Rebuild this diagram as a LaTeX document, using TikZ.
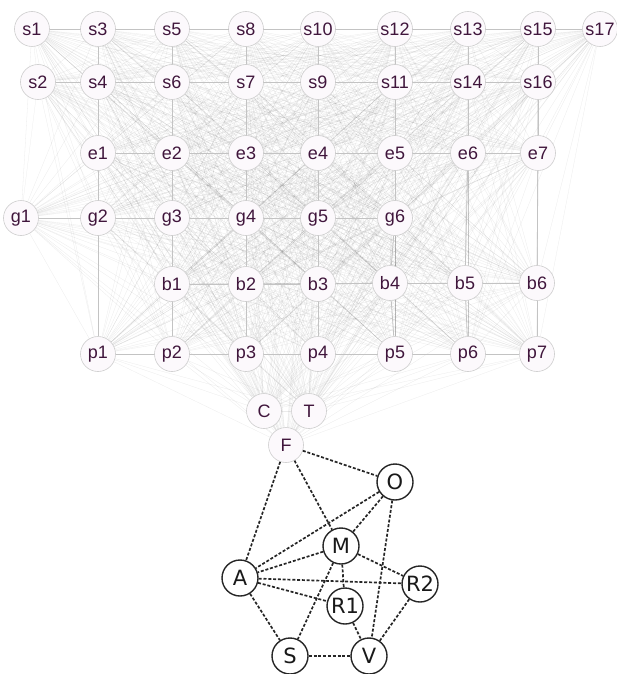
\documentclass[tikz,border=0pt]{standalone}
\usepackage{fontspec}
\newfontfamily\upfont{Liberation Sans}
\newfontfamily\lowfont{DejaVu Sans}
\definecolor{uptext}{RGB}{64,22,60}
\definecolor{upfill}{RGB}{252,249,252}
\definecolor{upborder}{RGB}{205,205,205}
\definecolor{gridline}{RGB}{195,195,195}
\definecolor{lowtext}{RGB}{25,25,25}
\pgfdeclarelayer{bg}
\pgfsetlayers{bg,main}
\tikzset{
  upnode/.style={circle, draw=upborder, line width=0.6pt, fill=upfill, minimum size=35pt, inner sep=0pt, text=uptext, font=\upfont\fontsize{18}{18}\selectfont},
  lownode/.style={circle, draw=black!85, line width=1.4pt, fill=white, minimum size=36pt, inner sep=0pt, text=lowtext, font=\lowfont\fontsize{21}{21}\selectfont},
  faint/.style={draw=black, opacity=0.08, line width=0.3pt},
  gridedge/.style={draw=gridline, line width=0.8pt},
  dashedge/.style={draw=black!85, line width=1.7pt, dash pattern=on 3pt off 1.8pt},
}
\begin{document}
\begin{tikzpicture}[x=1pt,y=-1pt]
\useasboundingbox (0,0) rectangle (616,674);
% row 1
\node[upnode] (s1) at (32,29) {s1};
\node[upnode] (s3) at (98,29) {s3};
\node[upnode] (s5) at (172,29) {s5};
\node[upnode] (s8) at (246,29) {s8};
\node[upnode] (s10) at (318,29) {s10};
\node[upnode] (s12) at (395,29) {s12};
\node[upnode] (s13) at (468,29) {s13};
\node[upnode] (s15) at (538,29) {s15};
\node[upnode] (s17) at (600,29) {s17};
% row 2
\node[upnode] (s2) at (38,82) {s2};
\node[upnode] (s4) at (98,82) {s4};
\node[upnode] (s6) at (172,82) {s6};
\node[upnode] (s7) at (246,82) {s7};
\node[upnode] (s9) at (318,82) {s9};
\node[upnode] (s11) at (395,82) {s11};
\node[upnode] (s14) at (468,82) {s14};
\node[upnode] (s16) at (538,82) {s16};
% row 3
\node[upnode] (e1) at (98,153) {e1};
\node[upnode] (e2) at (172,153) {e2};
\node[upnode] (e3) at (246,153) {e3};
\node[upnode] (e4) at (318,153) {e4};
\node[upnode] (e5) at (395,153) {e5};
\node[upnode] (e6) at (468,153) {e6};
\node[upnode] (e7) at (538,153) {e7};
% row 4
\node[upnode] (g1) at (21,218) {g1};
\node[upnode] (g2) at (98,218) {g2};
\node[upnode] (g3) at (172,218) {g3};
\node[upnode] (g4) at (246,218) {g4};
\node[upnode] (g5) at (318,218) {g5};
\node[upnode] (g6) at (395,218) {g6};
% row 5
\node[upnode] (b1) at (172,284) {b1};
\node[upnode] (b2) at (246,284) {b2};
\node[upnode] (b3) at (318,284) {b3};
\node[upnode] (b4) at (390,283) {b4};
\node[upnode] (b5) at (465,283) {b5};
\node[upnode] (b6) at (537,283) {b6};
% row 6
\node[upnode] (p1) at (98,354) {p1};
\node[upnode] (p2) at (172,354) {p2};
\node[upnode] (p3) at (246,354) {p3};
\node[upnode] (p4) at (318,354) {p4};
\node[upnode] (p5) at (395,354) {p5};
\node[upnode] (p6) at (468,354) {p6};
\node[upnode] (p7) at (537,354) {p7};
% C T F
\node[upnode] (C) at (264,411) {C};
\node[upnode] (T) at (309,411) {T};
\node[upnode] (F) at (286,445) {F};
% lower graph
\node[lownode] (O) at (395,482) {O};
\node[lownode] (M) at (341,546) {M};
\node[lownode] (A) at (240,578) {A};
\node[lownode] (R2) at (420,584) {R2};
\node[lownode] (R1) at (345,606) {R1};
\node[lownode] (S) at (290,656) {S};
\node[lownode] (V) at (369,656) {V};

\begin{pgfonlayer}{bg}
\def\allnodes{s1,s3,s5,s8,s10,s12,s13,s15,s17,s2,s4,s6,s7,s9,s11,s14,s16,e1,e2,e3,e4,e5,e6,e7,g1,g2,g3,g4,g5,g6,b1,b2,b3,b4,b5,b6,p1,p2,p3,p4,p5,p6,p7,C,T,F}
\foreach \a [count=\i] in \allnodes {
  \foreach \b [count=\j] in \allnodes {
    \ifnum\j>\i \draw[faint] (\a) -- (\b); \fi
  }
}
\foreach \a/\b in {s1/s3,s3/s5,s5/s8,s8/s10,s10/s12,s12/s13,s13/s15,s15/s17,
  s2/s4,s4/s6,s6/s7,s7/s9,s9/s11,s11/s14,s14/s16,
  e1/e2,e2/e3,e3/e4,e4/e5,e5/e6,e6/e7,
  g1/g2,g2/g3,g3/g4,g4/g5,g5/g6,
  b1/b2,b2/b3,b3/b4,b4/b5,b5/b6,
  p1/p2,p2/p3,p3/p4,p4/p5,p5/p6,p6/p7,
  s3/s4,s4/e1,e1/g2,g2/p1,
  s5/s6,s6/e2,e2/g3,g3/b1,b1/p2,
  s8/s7,s7/e3,e3/g4,g4/b2,b2/p3,
  s10/s9,s9/e4,e4/g5,g5/b3,b3/p4,
  s12/s11,s11/e5,e5/g6,g6/b4,b4/p5,
  s13/s14,s14/e6,e6/b5,b5/p6,
  s15/s16,s16/e7,e7/b6,b6/p7}
  \draw[gridedge] (\a) -- (\b);
\end{pgfonlayer}

\foreach \a/\b in {F/O,F/A,F/M,O/A,O/M,O/V,M/A,M/R1,M/R2,M/S,A/R2,A/R1,A/S,R1/V,R2/V,S/V}
  \draw[dashedge] (\a) -- (\b);
\end{tikzpicture}
\end{document}
